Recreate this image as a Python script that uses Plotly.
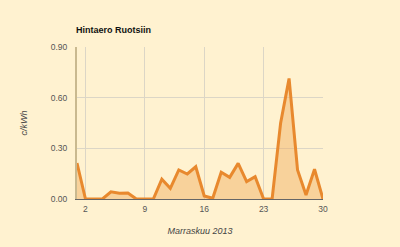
import plotly.graph_objects as go

days = list(range(1, 31))
values = [0.213, 0.0, 0.0, 0.0, 0.043, 0.034, 0.035, 0.0, 0.0, 0.0,
          0.117, 0.063, 0.172, 0.148, 0.191, 0.018, 0.004, 0.158, 0.128, 0.211,
          0.103, 0.132, 0.0, 0.0, 0.448, 0.714, 0.172, 0.024, 0.176, 0.0]
x_ticks = [2, 9, 16, 23, 30]
y_ticks = [0.0, 0.3, 0.6, 0.9]

bg = "#fff2d0"
font = "Liberation Sans, Arial, sans-serif"

fig = go.Figure()
fig.add_trace(go.Scatter(
    x=days, y=values, mode="lines", fill="tozeroy",
    line=dict(color="#e8892e", width=3),
    fillcolor="rgba(240,170,90,0.45)",
    hoverinfo="skip",
))

fig.update_layout(
    width=400, height=247,
    margin=dict(l=77, r=77, t=47, b=48),
    paper_bgcolor=bg, plot_bgcolor=bg,
    showlegend=False,
    font=dict(family=font, size=8.5, color="#555555"),
    title=dict(text="<b>Hintaero Ruotsiin</b>", x=76/400, xanchor="left",
               y=1-30/247, yanchor="middle",
               font=dict(family=font, size=9, color="#111111")),
)
fig.update_xaxes(
    range=[1, 30], tickvals=x_ticks, ticktext=[str(t) for t in x_ticks],
    showgrid=True, gridcolor="#dcd6c6", gridwidth=1,
    showline=True, linecolor="#666666", linewidth=1,
    zeroline=False, ticks="", ticklen=0, ticklabelstandoff=2,
    tickfont=dict(family=font, size=8.5, color="#555555"),
    title=dict(text="<i>Marraskuu 2013</i>", standoff=14,
               font=dict(family=font, size=9, color="#444444")),
)
fig.update_yaxes(
    range=[0, 0.9], tickvals=y_ticks, tickformat=".2f",
    showgrid=True, gridcolor="#dcd6c6", gridwidth=1,
    showline=True, linecolor="#c9b98f", linewidth=2,
    zeroline=False, ticks="", ticklen=0, ticklabelstandoff=6,
    tickfont=dict(family=font, size=8.5, color="#555555"),
    title=dict(text="<i>c/kWh</i>", standoff=22,
               font=dict(family=font, size=9, color="#444444")),
)

fig.write_html("out.html")
